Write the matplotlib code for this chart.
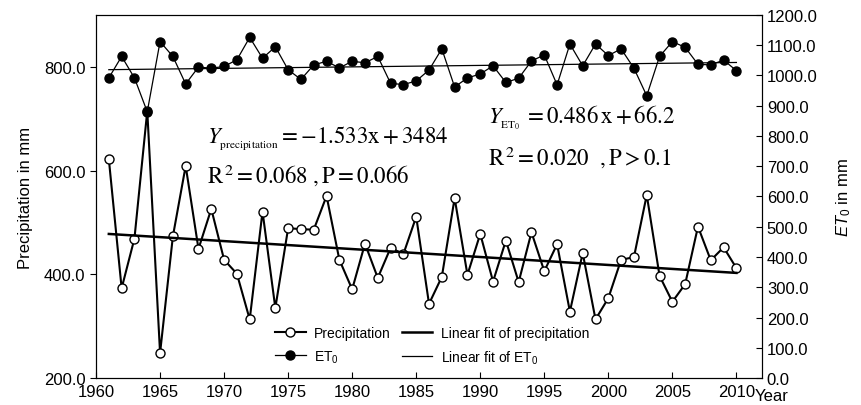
import numpy as np
import matplotlib
matplotlib.use("Agg")
import matplotlib.pyplot as plt

plt.rcParams['font.family'] = ['Liberation Sans', 'DejaVu Sans']
plt.rcParams['mathtext.fontset'] = 'custom'
plt.rcParams['mathtext.rm'] = 'Liberation Sans'
plt.rcParams['mathtext.it'] = 'Liberation Sans:italic'

# dane
years = np.arange(1961, 2011)
precip = [622, 373, 469, 715, 248, 473, 609, 449, 526, 428,
          401, 313, 521, 335, 489, 487, 486, 551, 428, 371,
          459, 393, 451, 439, 511, 343, 395, 547, 399, 478,
          386, 465, 385, 481, 406, 458, 328, 441, 313, 354,
          428, 433, 553, 397, 347, 381, 492, 427, 452, 412]
et0 = [992, 1063, 992, 880, 1112, 1063, 972, 1028, 1024, 1030,
       1052, 1126, 1057, 1095, 1019, 987, 1035, 1047, 1025, 1047,
       1042, 1063, 974, 970, 982, 1018, 1088, 962, 992, 1005,
       1032, 977, 991, 1048, 1068, 969, 1104, 1032, 1104, 1066,
       1088, 1024, 933, 1063, 1112, 1093, 1037, 1035, 1051, 1016]

# wspolczynniki regresji (z rownan na wykresie)
p_slope, p_icpt = -1.533, 3484
e_slope, e_icpt = 0.486, 66.2

fig = plt.figure(figsize=(8.62, 4.06), dpi=100)
ax = fig.add_axes([0.1114, 0.0665, 0.7726, 0.8941])
ax2 = ax.twinx()

fit_x = np.array([years[0], years[-1]])
l1, = ax.plot(years, precip, '-o', color='black', lw=1.5, ms=6.5,
              mfc='white', mec='black', mew=1, label='Precipitation')
l3, = ax.plot(fit_x, p_slope * fit_x + p_icpt, '-', color='black', lw=1.8,
              label='Linear fit of precipitation')
l2, = ax2.plot(years, et0, '-o', color='black', lw=0.9, ms=6.5,
               mfc='black', mec='black', label='ET$_0$')
l4, = ax2.plot(fit_x, e_slope * fit_x + e_icpt, '-', color='black', lw=0.9,
               label='Linear fit of ET$_0$')

ax.set_xlim(1960, 2012)
ax.set_ylim(200, 900)
ax2.set_ylim(0, 1200)
ax.set_xticks(np.arange(1960, 2011, 5))
ax.set_yticks([200, 400, 600, 800])
ax2.set_yticks(np.arange(0, 1201, 100))
ax.yaxis.set_major_formatter(matplotlib.ticker.FormatStrFormatter('%.1f'))
ax2.yaxis.set_major_formatter(matplotlib.ticker.FormatStrFormatter('%.1f'))

ax.tick_params(axis='x', direction='in', length=4, labelsize=12, pad=4)
ax.tick_params(axis='y', direction='out', length=4, labelsize=12)
ax2.tick_params(axis='y', direction='in', length=4, labelsize=12)

ax.set_ylabel('Precipitation in mm', fontsize=12, labelpad=8)
ax2.set_ylabel('$ET_0$ in mm', fontsize=12, labelpad=12)
fig.text(0.875, 0.024, 'Year', fontsize=12, ha='left', va='center')

# rownania
eq = dict(transform=ax.transAxes, fontsize=16.5, math_fontfamily='stix',
          ha='left', va='center')
ax.text(0.167, 0.664,
        r'$Y_{{}_{\rm precipitation}}=-1.533{\rm x}+3484$', **eq)
ax.text(0.167, 0.562, r'${\rm R}^{\,2} = 0.068\ ,{\rm P} = 0.066$', **eq)
ax.text(0.589, 0.719,
        r'$Y_{{}_{\rm ET_0}}\,= 0.486\,{\rm x} + 66.2$', **eq)
ax.text(0.589, 0.611, r'${\rm R}^{\,2} = 0.020\ \ ,{\rm P} > 0.1$', **eq)

ax2.legend([l1, l2, l3, l4],
           [l.get_label() for l in [l1, l2, l3, l4]],
           ncol=2, frameon=False, fontsize=10, handlelength=2.2,
           columnspacing=0.8, handletextpad=0.6, labelspacing=0.6,
           loc='lower left', bbox_to_anchor=(0.25, 0.0))

fig.savefig('out.png', dpi=100)
